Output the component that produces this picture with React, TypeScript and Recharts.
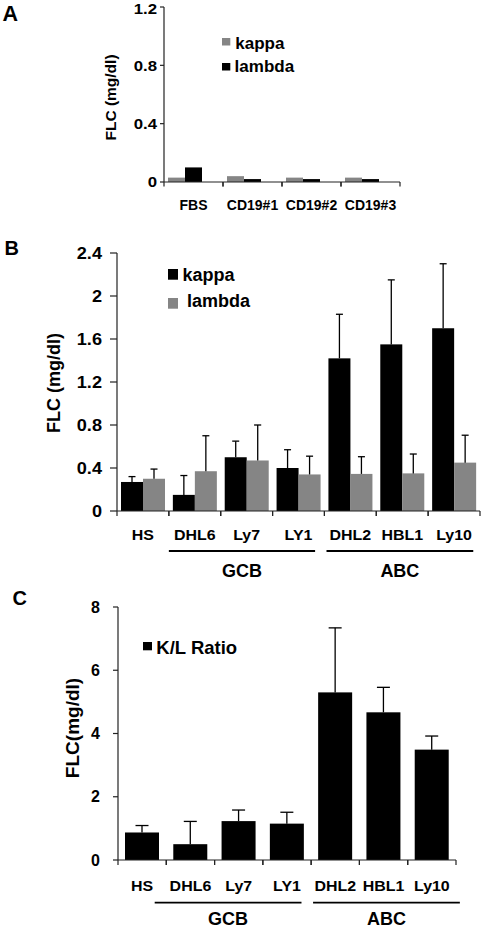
import React from 'react'
import { BarChart, Bar, XAxis, YAxis, Legend } from 'recharts'

const FONT = '"Liberation Sans", Arial, Helvetica, sans-serif'
const GRAY = '#858585'
const BLACK = '#000000'
const AXIS = '#222222'

// Panel A: FLC in control samples
const samplesA = ['FBS', 'CD19#1', 'CD19#2', 'CD19#3']
const kappaA = [0.03, 0.04, 0.03, 0.03]
const lambdaA = [0.1, 0.02, 0.02, 0.02]
const ticksA = [0, 0.4, 0.8, 1.2]

// Panel B: kappa / lambda per cell line
const cellLines = ['HS', 'DHL6', 'Ly7', 'LY1', 'DHL2', 'HBL1', 'Ly10']
const kappaB = [0.27, 0.15, 0.5, 0.4, 1.42, 1.55, 1.7]
const kappaErrB = [0.05, 0.18, 0.15, 0.17, 0.41, 0.6, 0.6]
const lambdaB = [0.3, 0.37, 0.47, 0.34, 0.345, 0.35, 0.45]
const lambdaErrB = [0.09, 0.33, 0.33, 0.17, 0.16, 0.18, 0.255]
const ticksB = [0, 0.4, 0.8, 1.2, 1.6, 2, 2.4]

// Panel C: K/L ratio
const ratioC = [0.87, 0.5, 1.23, 1.15, 5.3, 4.67, 3.49]
const ratioErrC = [0.22, 0.72, 0.35, 0.36, 2.04, 0.79, 0.43]
const ticksC = [0, 2, 4, 6, 8]

// subtype groups, spans in category units
const groupNames = ['GCB', 'ABC']
const groupSpansB = [[1.0, 3.82], [4.04, 6.87]]
const groupSpansC = [[0.76, 3.8], [4.04, 7.08]]

const dataA = samplesA.map((name, i) => ({ name, kappa: kappaA[i], lambda: lambdaA[i], spare: null }))
const dataB = cellLines.map((name, i) => ({
  name, kappa: kappaB[i], kappaErr: kappaErrB[i], lambda: lambdaB[i], lambdaErr: lambdaErrB[i]
}))
const dataC = cellLines.map((name, i) => ({ name, ratio: ratioC[i], ratioErr: ratioErrC[i] }))

// bar with an upward-only error whisker
const barWithError = (valueKey: string, errKey: string | null, cap: number) => (props: any) => {
  const { x, y, width, height, fill, payload } = props
  if (!height || height <= 0) return <g />
  const v = payload[valueKey]
  const cx = x + width / 2
  let whisker = null
  if (errKey && payload[errKey]) {
    const top = y - (payload[errKey] * height) / v
    whisker = (
      <g stroke={BLACK} strokeWidth={1.3}>
        <line x1={cx} x2={cx} y1={y} y2={top} />
        <line x1={cx - cap / 2} x2={cx + cap / 2} y1={top} y2={top} />
      </g>
    )
  }
  return (
    <g>
      <rect x={x} y={y} width={width} height={height} fill={fill} />
      {whisker}
    </g>
  )
}

const yTick = (size: number, sx: number) => (p: any) => (
  <text
    transform={`translate(${p.x},${p.y + size * 0.35}) scale(${sx},1)`}
    textAnchor="end"
    style={{ fontSize: size, fontWeight: 'bold', fontFamily: FONT }}
    fill={BLACK}
  >
    {p.payload.value}
  </text>
)

const xTick = (band: number, size: number, sx: number, dy: number, len: number) => (p: any) => (
  <g>
    <line x1={p.x - band / 2} x2={p.x - band / 2} y1={p.y} y2={p.y + len} stroke={AXIS} strokeWidth={1.2} />
    <line x1={p.x + band / 2} x2={p.x + band / 2} y1={p.y} y2={p.y + len} stroke={AXIS} strokeWidth={1.2} />
    <text
      transform={`translate(${p.x},${p.y + dy}) scale(${sx},1)`}
      textAnchor="middle"
      style={{ fontSize: size, fontWeight: 'bold', fontFamily: FONT }}
      fill={BLACK}
    >
      {p.payload.value}
    </text>
  </g>
)

const legendContent = (sq: [number, number], rowGap: number, textX: number[], base: number[], size: number) => (props: any) => {
  const items = (props.payload || []).filter((it: any) => it.type !== 'none')
  return (
    <svg width={120} height={rowGap * items.length + 10} style={{ display: 'block', overflow: 'visible' }}>
      {items.map((it: any, i: number) => (
        <g key={it.value} transform={`translate(0,${i * rowGap})`}>
          <rect x={0} y={0} width={sq[0]} height={sq[1]} fill={it.color} />
          <text x={textX[i]} y={base[i]} fontSize={size} fontWeight="bold" fontFamily={FONT} fill={BLACK}>
            {it.value}
          </text>
        </g>
      ))}
    </svg>
  )
}

const noOffsetLegend = { layout: 'vertical' as const, align: 'center' as const, verticalAlign: 'middle' as const }

// plot geometry (page px)
const A = { top: 0, left: 164, right: 400, plotTop: 7, plotBottom: 182, h: 215 }
const B = { top: 220, left: 117, right: 480, plotTop: 253, plotBottom: 511, h: 330 }
const C = { top: 590, left: 118, right: 456, plotTop: 607, plotBottom: 860, h: 340 }
const Y_W = 60
const X_H = 16

const bandA = (A.right - A.left) / samplesA.length
const bandB = (B.right - B.left) / cellLines.length
const bandC = (C.right - C.left) / cellLines.length

function Brackets({ P, band, spans, lineY, textY }: any) {
  return (
    <g>
      {spans.map((s: number[], i: number) => {
        const x1 = P.left + s[0] * band
        const x2 = P.left + s[1] * band
        return (
          <g key={groupNames[i]}>
            <line x1={x1} x2={x2} y1={lineY} y2={lineY} stroke={BLACK} strokeWidth={1.8} />
            <text x={(x1 + x2) / 2} y={textY} textAnchor="middle" fontSize={18} fontWeight="bold" fontFamily={FONT}>
              {groupNames[i]}
            </text>
          </g>
        )
      })}
    </g>
  )
}

export default function App() {
  const margin = (P: any) => ({
    top: P.plotTop - P.top,
    left: P.left - Y_W,
    right: 489 - P.right,
    bottom: P.h - (P.plotBottom - P.top) - X_H
  })

  return (
    <div style={{ position: 'absolute', left: 0, top: 0, width: 489, height: 930, background: '#fff', fontFamily: FONT }}>
      {/* A */}
      <div style={{ position: 'absolute', left: 0, top: A.top }}>
        <BarChart width={489} height={A.h} data={dataA} margin={margin(A)} barCategoryGap={4} barGap={0}>
          <XAxis dataKey="name" height={X_H} interval={0} tickSize={0} tickMargin={0} tickLine={false}
            axisLine={{ stroke: AXIS, strokeWidth: 1.2 }} tick={xTick(bandA, 14, 1, 28, 4.5)} />
          <YAxis width={Y_W} domain={[0, 1.2]} ticks={ticksA} tickSize={4} tickMargin={3}
            axisLine={{ stroke: AXIS, strokeWidth: 1.2 }} tickLine={{ stroke: AXIS, strokeWidth: 1.2 }} tick={yTick(15, 1.12)} />
          <Legend {...noOffsetLegend} wrapperStyle={{ left: 221.7, top: 38.3, width: 120 }}
            content={legendContent([8.3, 7.5], 25, [13.3, 12.6], [10.5, 8.5], 17)} />
          <Bar dataKey="kappa" name="kappa" fill={GRAY} isAnimationActive={false} shape={barWithError('kappa', null, 0)} />
          <Bar dataKey="lambda" name="lambda" fill={BLACK} isAnimationActive={false} shape={barWithError('lambda', null, 0)} />
          <Bar dataKey="spare" name="spare" legendType="none" fill="none" isAnimationActive={false} />
        </BarChart>
      </div>

      {/* B */}
      <div style={{ position: 'absolute', left: 0, top: B.top }}>
        <BarChart width={489} height={B.h} data={dataB} margin={margin(B)} barCategoryGap={4} barGap={0}>
          <XAxis dataKey="name" height={X_H} interval={0} tickSize={0} tickMargin={0} tickLine={false}
            axisLine={{ stroke: AXIS, strokeWidth: 1.2 }} tick={xTick(bandB, 14, 1.14, 29, 5)} />
          <YAxis width={Y_W} domain={[0, 2.4]} ticks={ticksB} tickSize={7} tickMargin={8}
            axisLine={{ stroke: AXIS, strokeWidth: 1.2 }} tickLine={{ stroke: AXIS, strokeWidth: 1.2 }} tick={yTick(16.5, 1.1)} />
          <Legend {...noOffsetLegend} wrapperStyle={{ left: 168.3, top: 49.3, width: 120 }}
            content={legendContent([10, 10.7], 29, [14.4, 19], [11.7, 9.4], 18)} />
          <Bar dataKey="kappa" name="kappa" fill={BLACK} isAnimationActive={false} shape={barWithError('kappa', 'kappaErr', 7)} />
          <Bar dataKey="lambda" name="lambda" fill={GRAY} isAnimationActive={false} shape={barWithError('lambda', 'lambdaErr', 7)} />
        </BarChart>
      </div>

      {/* C */}
      <div style={{ position: 'absolute', left: 0, top: C.top }}>
        <BarChart width={489} height={C.h} data={dataC} margin={margin(C)} barCategoryGap={7} barGap={0}>
          <XAxis dataKey="name" height={X_H} interval={0} tickSize={0} tickMargin={0} tickLine={false}
            axisLine={{ stroke: AXIS, strokeWidth: 1.2 }} tick={xTick(bandC, 14, 1.14, 31, 5)} />
          <YAxis width={Y_W} domain={[0, 8]} ticks={ticksC} tickSize={5} tickMargin={13}
            axisLine={{ stroke: AXIS, strokeWidth: 1.2 }} tickLine={{ stroke: AXIS, strokeWidth: 1.2 }} tick={yTick(16, 1)} />
          <Legend {...noOffsetLegend} wrapperStyle={{ left: 142.7, top: 51.7, width: 120 }}
            content={legendContent([9, 8.3], 25, [13.3], [11.6], 18.5)} />
          <Bar dataKey="ratio" name="K/L Ratio" fill={BLACK} isAnimationActive={false} shape={barWithError('ratio', 'ratioErr', 13)} />
        </BarChart>
      </div>

      {/* panel letters, axis titles, subtype brackets */}
      <svg width={489} height={930} style={{ position: 'absolute', left: 0, top: 0, pointerEvents: 'none' }}
        fontFamily={FONT} fontWeight="bold" fill={BLACK}>
        <text x={2.5} y={21} fontSize={21.5}>A</text>
        <text x={4.5} y={255} fontSize={20}>B</text>
        <text x={12.5} y={605} fontSize={20}>C</text>
        <text transform="translate(115.5,97.5) rotate(-90)" textAnchor="middle" fontSize={15.5}>FLC (mg/dl)</text>
        <text transform="translate(60,383) rotate(-90)" textAnchor="middle" fontSize={18}>FLC (mg/dl)</text>
        <text transform="translate(78.5,728) rotate(-90)" textAnchor="middle" fontSize={19}>FLC(mg/dl)</text>
        <Brackets P={B} band={bandB} spans={groupSpansB} lineY={551} textY={576.5} />
        <Brackets P={C} band={bandC} spans={groupSpansC} lineY={902.7} textY={925} />
      </svg>
    </div>
  )
}
